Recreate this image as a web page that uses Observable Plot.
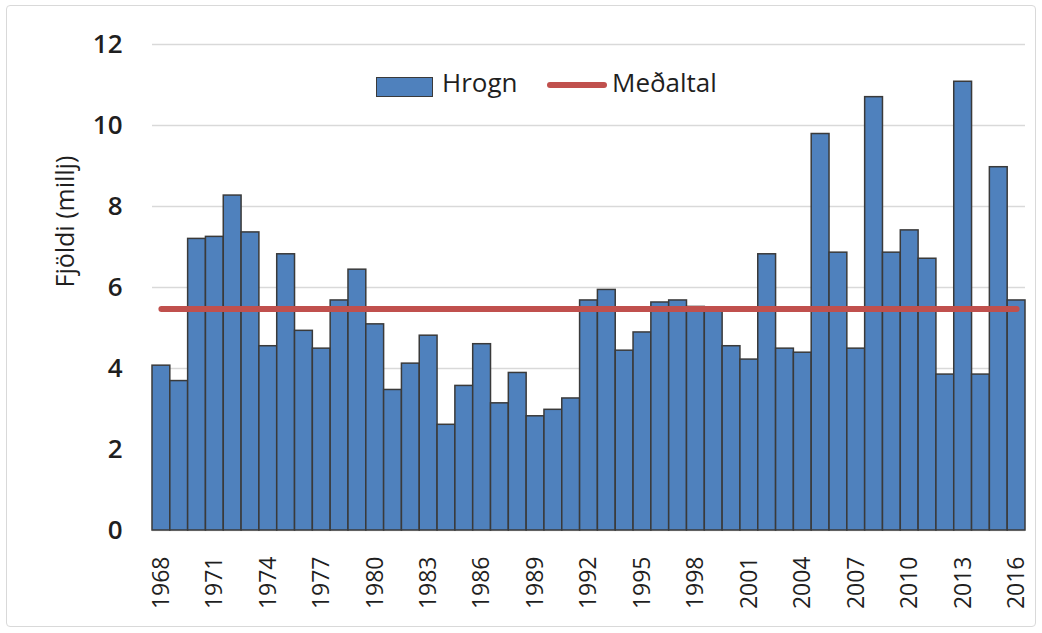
<!DOCTYPE html>
<html><head><meta charset="utf-8">
<script src="https://cdn.jsdelivr.net/npm/d3@7"></script>
<script src="https://cdn.jsdelivr.net/npm/@observablehq/plot@0.6"></script>
<style>
body{margin:0;background:#fff;font-family:"Open Sans",sans-serif;}
#wrap{position:relative;width:1042px;height:633px;overflow:hidden;}
#chart{position:absolute;left:0;top:0;}
#frame{position:absolute;left:6px;top:5px;width:1030px;height:622px;border:1.5px solid #d9d9d9;border-radius:4px;box-sizing:border-box;pointer-events:none;}
.lt{position:absolute;font-size:26px;line-height:26px;color:#1f1f1f;white-space:nowrap;}
</style></head><body>
<div id="wrap">
  <div id="chart"></div>
  <div id="frame"></div>
  <div style="position:absolute;left:376px;top:77px;width:57px;height:20px;background:#4F81BD;border:1.5px solid #3a3a3a;box-sizing:border-box;"></div>
  <div class="lt" style="left:442px;top:69px;">Hrogn</div>
  <div style="position:absolute;left:547px;top:82px;width:60px;height:6px;background:#C0504D;border-radius:3px;"></div>
  <div class="lt" style="left:612px;top:69px;">Meðaltal</div>
</div>
<script>
const years = [1968,1969,1970,1971,1972,1973,1974,1975,1976,1977,1978,1979,1980,1981,1982,1983,1984,1985,1986,1987,1988,1989,1990,1991,1992,1993,1994,1995,1996,1997,1998,1999,2000,2001,2002,2003,2004,2005,2006,2007,2008,2009,2010,2011,2012,2013,2014,2015,2016];
const hrogn = [4.07,3.69,7.20,7.25,8.27,7.36,4.55,6.82,4.93,4.49,5.68,6.44,5.09,3.47,4.12,4.81,2.61,3.57,4.60,3.14,3.89,2.82,2.98,3.26,5.68,5.94,4.44,4.89,5.63,5.68,5.52,5.48,4.55,4.22,6.82,4.49,4.39,9.79,6.86,4.49,10.70,6.86,7.41,6.71,3.85,11.08,3.85,8.97,5.68];
const medaltal = 5.47;
const xTickYears = [1968,1971,1974,1977,1980,1983,1986,1989,1992,1995,1998,2001,2004,2007,2010,2013,2016];
const yTicks = [0,2,4,6,8,10,12];
const yTitle = "Fjöldi (millj)";

const data = years.map((y, i) => ({year: y, value: hrogn[i], mean: medaltal}));

const chart = Plot.plot({
  width: 1042, height: 633,
  marginLeft: 152, marginRight: 17, marginTop: 44, marginBottom: 103,
  style: {fontFamily: "Open Sans, sans-serif", color: "#1f1f1f", background: "transparent", overflow: "visible"},
  x: {type: "band", domain: years, padding: 0, label: null},
  y: {domain: [0, 12], label: null},
  marks: [
    Plot.gridY(yTicks, {stroke: "#d9d9d9", strokeOpacity: 1, strokeWidth: 1.5}),
    Plot.barY(data, {x: "year", y: "value", fill: "#4F81BD", stroke: "#3a3a3a", strokeWidth: 1.5}),
    Plot.lineY(data, {x: "year", y: "mean", stroke: "#C0504D", strokeWidth: 6, strokeLinecap: "round"}),
    Plot.axisY(yTicks, {tickSize: 0, tickPadding: 30, fontSize: 26, fontWeight: 600, label: null}),
    Plot.axisX(xTickYears, {tickSize: 0, tickRotate: -90, tickPadding: 26, fontSize: 23, tickFormat: d => String(d), label: null}),
    Plot.text([yTitle], {frameAnchor: "left", dx: -87, rotate: -90, fontSize: 25, fill: "#1f1f1f"})
  ]
});
document.getElementById("chart").appendChild(chart);
</script>
</body></html>
